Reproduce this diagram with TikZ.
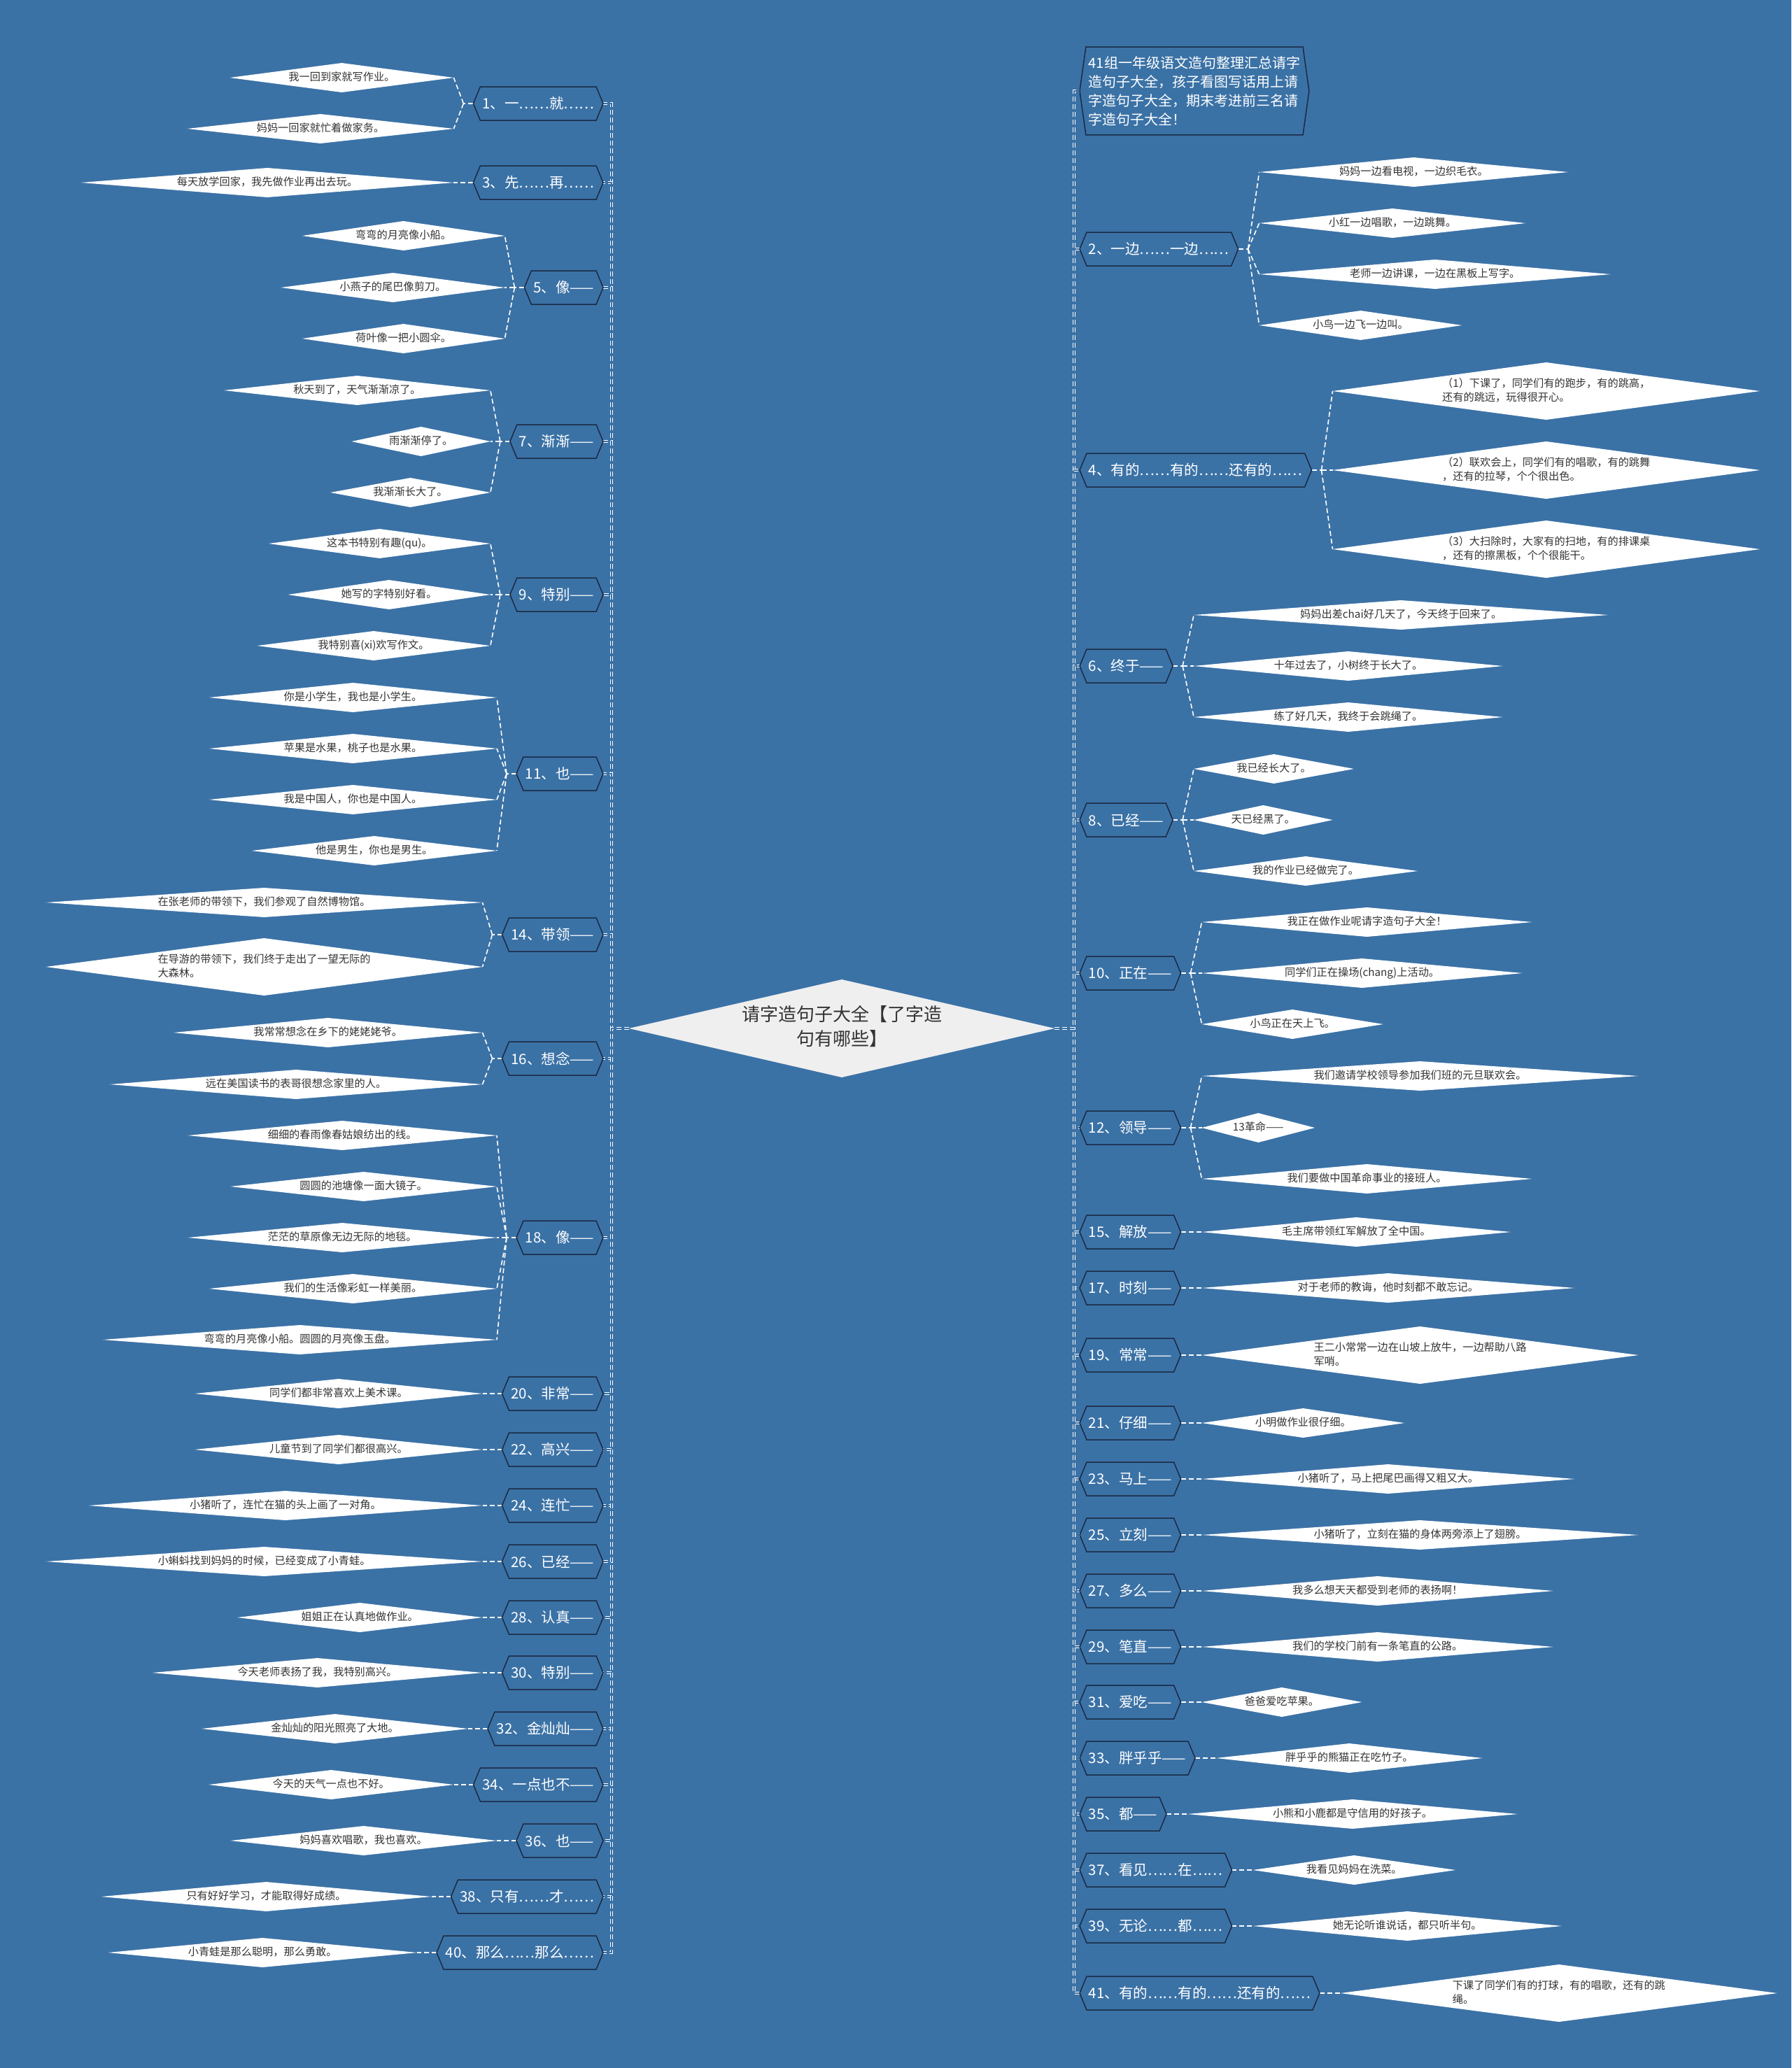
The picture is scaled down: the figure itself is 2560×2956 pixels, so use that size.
\documentclass[tikz,border=0pt]{standalone}
\usepackage{fontspec}
\setmainfont{Noto Sans CJK SC}
\usetikzlibrary{shapes.geometric,shapes.symbols,calc,backgrounds}

\definecolor{bgblue}{HTML}{3B72A6}
\definecolor{edgeblue}{HTML}{1B2A44}
\definecolor{ink}{HTML}{333333}
\definecolor{rootfill}{HTML}{EFEFEF}

\newcommand{\leaffont}{\fontsize{15.2}{20}\selectfont}
\newcommand{\branchfont}{\fontsize{20.5}{24}\selectfont}
\newdimen\leafw
\newdimen\leafh
\newbox\leafbox
% leaf diamond: twice the size of its text box
\newcommand{\leafnode}[4]{%
  \pgfinterruptpicture
    \global\setbox\leafbox=\hbox{\normalfont\leaffont\begin{tabular}{@{}l@{}}#4\end{tabular}}%
  \endpgfinterruptpicture
  \leafw=\wd\leafbox \leafh=\ht\leafbox \advance\leafh by \dp\leafbox
  \pgfmathsetmacro{\leafasp}{(\the\leafw+8pt)/(\the\leafh+1pt)}%
  \node[leaf, aspect=\leafasp, anchor=#2] (#1) at (#3) {\begin{tabular}{@{}l@{}}#4\end{tabular}};%
}

\begin{document}
\begin{tikzpicture}[
    x=1pt, y=-1pt,
    leaf/.style={diamond, fill=white, text=ink, font=\leaffont, inner xsep=4pt, inner ysep=0.5pt, outer sep=0pt},
    branch/.style={signal, signal from=nowhere, signal to=west and east, signal pointer angle=135,
        draw=edgeblue, line width=1.5pt, fill=bgblue, text=white, font=\branchfont,
        minimum height=48pt, inner xsep=3pt, inner ysep=0pt, outer sep=0pt},
    title/.style={branch, align=left, font=\fontsize{20}{27}\selectfont, signal pointer angle=164,
        inner xsep=4pt, inner ysep=13pt},
    link/.style={draw=white, line width=1.6pt, dash pattern=on 7pt off 4pt},
    trunkline/.style={link, line width=1.5pt, double=bgblue, double distance=1.8pt},
]
\useasboundingbox (0,0) rectangle (2560,2956);
\begin{scope}[on background layer]
  \fill[bgblue] (0,0) rectangle (2560,2956);
\end{scope}

% Centre topic
\node[diamond, fill=rootfill, text=ink, font=\fontsize{26}{35}\selectfont, aspect=4.35,
      inner xsep=9pt, inner ysep=0pt, outer sep=0pt] (root) at (1203,1470)
      {\begin{tabular}{@{}c@{}}请字造句子大全【了字造\\句有哪些】\end{tabular}};
\coordinate (lt) at (874,1470);
\coordinate (rt) at (1535,1470);

% --- Left side, several leaves each ---
\node[branch, anchor=east] (b1) at (862,148) {1、一……就……};
\foreach \k/\dy/\txt in {1/-37/{我一回到家就写作业。}, 2/36/{妈妈一回家就忙着做家务。}}{
  \leafnode{l1-\k}{east}{$(b1.west)+(-28,\dy)$}{\txt}
}
\node[branch, anchor=east] (b5) at (862,411) {5、像——};
\foreach \k/\dy/\txt in {1/-74/{弯弯的月亮像小船。}, 2/0/{小燕子的尾巴像剪刀。}, 3/73/{荷叶像一把小圆伞。}}{
  \leafnode{l5-\k}{east}{$(b5.west)+(-28,\dy)$}{\txt}
}
\node[branch, anchor=east] (b7) at (862,631) {7、渐渐——};
\foreach \k/\dy/\txt in {1/-73/{秋天到了，天气渐渐凉了。}, 2/0/{雨渐渐停了。}, 3/73/{我渐渐长大了。}}{
  \leafnode{l7-\k}{east}{$(b7.west)+(-28,\dy)$}{\txt}
}
\node[branch, anchor=east] (b9) at (862,850) {9、特别——};
\foreach \k/\dy/\txt in {1/-73/{这本书特别有趣(qu)。}, 2/0/{她写的字特别好看。}, 3/73/{我特别喜(xi)欢写作文。}}{
  \leafnode{l9-\k}{east}{$(b9.west)+(-28,\dy)$}{\txt}
}
\node[branch, anchor=east] (b11) at (862,1106) {11、也——};
\foreach \k/\dy/\txt in {1/-109/{你是小学生，我也是小学生。}, 2/-36/{苹果是水果，桃子也是水果。},
    3/37/{我是中国人，你也是中国人。}, 4/110/{他是男生，你也是男生。}}{
  \leafnode{l11-\k}{east}{$(b11.west)+(-28,\dy)$}{\txt}
}
\node[branch, anchor=east] (b14) at (862,1336) {14、带领——};
\foreach \k/\dy/\txt in {1/-46/{在张老师的带领下，我们参观了自然博物馆。},
    2/46/{在导游的带领下，我们终于走出了一望无际的\\大森林。}}{
  \leafnode{l14-\k}{east}{$(b14.west)+(-28,\dy)$}{\txt}
}
\node[branch, anchor=east] (b16) at (862,1513) {16、想念——};
\foreach \k/\dy/\txt in {1/-37/{我常常想念在乡下的姥姥姥爷。}, 2/37/{远在美国读书的表哥很想念家里的人。}}{
  \leafnode{l16-\k}{east}{$(b16.west)+(-28,\dy)$}{\txt}
}
\node[branch, anchor=east] (b18) at (862,1769) {18、像——};
\foreach \k/\dy/\txt in {1/-146/{细细的春雨像春姑娘纺出的线。}, 2/-73/{圆圆的池塘像一面大镜子。},
    3/0/{茫茫的草原像无边无际的地毯。}, 4/73/{我们的生活像彩虹一样美丽。},
    5/146/{弯弯的月亮像小船。圆圆的月亮像玉盘。}}{
  \leafnode{l18-\k}{east}{$(b18.west)+(-28,\dy)$}{\txt}
}

% --- Left side, one leaf each ---
\foreach \i/\y/\btxt/\txt in {
  3/261/{3、先……再……}/{每天放学回家，我先做作业再出去玩。},
  20/1992/{20、非常——}/{同学们都非常喜欢上美术课。},
  22/2072/{22、高兴——}/{儿童节到了同学们都很高兴。},
  24/2152/{24、连忙——}/{小猪听了，连忙在猫的头上画了一对角。},
  26/2232/{26、已经——}/{小蝌蚪找到妈妈的时候，已经变成了小青蛙。},
  28/2312/{28、认真——}/{姐姐正在认真地做作业。},
  30/2391/{30、特别——}/{今天老师表扬了我，我特别高兴。},
  32/2471/{32、金灿灿——}/{金灿灿的阳光照亮了大地。},
  34/2551/{34、一点也不——}/{今天的天气一点也不好。},
  36/2631/{36、也——}/{妈妈喜欢唱歌，我也喜欢。},
  38/2711/{38、只有……才……}/{只有好好学习，才能取得好成绩。},
  40/2791/{40、那么……那么……}/{小青蛙是那么聪明，那么勇敢。}%
}{
  \node[branch, anchor=east] (b\i) at (862,\y) {\btxt};
  \leafnode{l\i}{east}{$(b\i.west)+(-28,0)$}{\txt}
}

% --- Right side ---
\node[title, anchor=west] (b0) at (1543,130)
  {41组一年级语文造句整理汇总请字\\造句子大全，孩子看图写话用上请\\字造句子大全，期末考进前三名请\\字造句子大全！};

\node[branch, anchor=west] (b2) at (1543,356) {2、一边……一边……};
\foreach \k/\dy/\txt in {1/-110/{妈妈一边看电视，一边织毛衣。}, 2/-37/{小红一边唱歌，一边跳舞。},
    3/36/{老师一边讲课，一边在黑板上写字。}, 4/109/{小鸟一边飞一边叫。}}{
  \leafnode{l2-\k}{west}{$(b2.east)+(30,\dy)$}{\txt}
}
\node[branch, anchor=west] (b4) at (1543,672) {4、有的……有的……还有的……};
\foreach \k/\dy/\txt in {1/-113/{（1）下课了，同学们有的跑步，有的跳高，\\还有的跳远，玩得很开心。},
    2/0/{（2）联欢会上，同学们有的唱歌，有的跳舞\\，还有的拉琴，个个很出色。},
    3/113/{（3）大扫除时，大家有的扫地，有的排课桌\\，还有的擦黑板，个个很能干。}}{
  \leafnode{l4-\k}{west}{$(b4.east)+(30,\dy)$}{\txt}
}
\node[branch, anchor=west] (b6) at (1543,952) {6、终于——};
\foreach \k/\dy/\txt in {1/-73/{妈妈出差chai好几天了，今天终于回来了。}, 2/0/{十年过去了，小树终于长大了。},
    3/73/{练了好几天，我终于会跳绳了。}}{
  \leafnode{l6-\k}{west}{$(b6.east)+(30,\dy)$}{\txt}
}
\node[branch, anchor=west] (b8) at (1543,1172) {8、已经——};
\foreach \k/\dy/\txt in {1/-73/{我已经长大了。}, 2/0/{天已经黑了。}, 3/73/{我的作业已经做完了。}}{
  \leafnode{l8-\k}{west}{$(b8.east)+(30,\dy)$}{\txt}
}
\node[branch, anchor=west] (b10) at (1543,1391) {10、正在——};
\foreach \k/\dy/\txt in {1/-73/{我正在做作业呢请字造句子大全！}, 2/0/{同学们正在操场(chang)上活动。},
    3/73/{小鸟正在天上飞。}}{
  \leafnode{l10-\k}{west}{$(b10.east)+(30,\dy)$}{\txt}
}
\node[branch, anchor=west] (b12) at (1543,1612) {12、领导——};
\foreach \k/\dy/\txt in {1/-74/{我们邀请学校领导参加我们班的元旦联欢会。}, 2/0/{13革命——},
    3/73/{我们要做中国革命事业的接班人。}}{
  \leafnode{l12-\k}{west}{$(b12.east)+(30,\dy)$}{\txt}
}

\foreach \i/\y/\btxt/\txt in {
  15/1761/{15、解放——}/{毛主席带领红军解放了全中国。},
  17/1841/{17、时刻——}/{对于老师的教诲，他时刻都不敢忘记。},
  19/1937/{19、常常——}/{王二小常常一边在山坡上放牛，一边帮助八路\\军哨。},
  21/2034/{21、仔细——}/{小明做作业很仔细。},
  23/2114/{23、马上——}/{小猪听了，马上把尾巴画得又粗又大。},
  25/2194/{25、立刻——}/{小猪听了，立刻在猫的身体两旁添上了翅膀。},
  27/2274/{27、多么——}/{我多么想天天都受到老师的表扬啊！},
  29/2354/{29、笔直——}/{我们的学校门前有一条笔直的公路。},
  31/2433/{31、爱吃——}/{爸爸爱吃苹果。},
  33/2513/{33、胖乎乎——}/{胖乎乎的熊猫正在吃竹子。},
  35/2593/{35、都——}/{小熊和小鹿都是守信用的好孩子。},
  37/2673/{37、看见……在……}/{我看见妈妈在洗菜。},
  39/2753/{39、无论……都……}/{她无论听谁说话，都只听半句。},
  41/2849/{41、有的……有的……还有的……}/{下课了同学们有的打球，有的唱歌，还有的跳\\绳。}%
}{
  \node[branch, anchor=west] (b\i) at (1543,\y) {\btxt};
  \leafnode{l\i}{west}{$(b\i.east)+(30,0)$}{\txt}
}

% Connectors
\begin{scope}[on background layer]
  \foreach \i in {1,3,5,7,9,11,14,16,18,20,22,24,26,28,30,32,34,36,38,40}
    \draw[trunkline] (root.west) -- (lt) |- (b\i.east);
  \foreach \i in {0,2,4,6,8,10,12,15,17,19,21,23,25,27,29,31,33,35,37,39,41}
    \draw[trunkline] (root.east) -- (rt) |- (b\i.west);
  \foreach \i/\n in {1/2,5/3,7/3,9/3,11/4,14/2,16/2,18/5}{
    \draw[link] (b\i.west) -- ++(-14,0) coordinate (j\i);
    \foreach \k in {1,...,\n} \draw[link] (j\i) -- (l\i-\k.east);
  }
  \foreach \i in {3,20,22,24,26,28,30,32,34,36,38,40}
    \draw[link] (b\i.west) -- (l\i.east);
  \foreach \i/\n in {2/4,4/3,6/3,8/3,10/3,12/3}{
    \draw[link] (b\i.east) -- ++(14,0) coordinate (j\i);
    \foreach \k in {1,...,\n} \draw[link] (j\i) -- (l\i-\k.west);
  }
  \foreach \i in {15,17,19,21,23,25,27,29,31,33,35,37,39,41}
    \draw[link] (b\i.east) -- (l\i.west);
\end{scope}
\end{tikzpicture}
\end{document}
